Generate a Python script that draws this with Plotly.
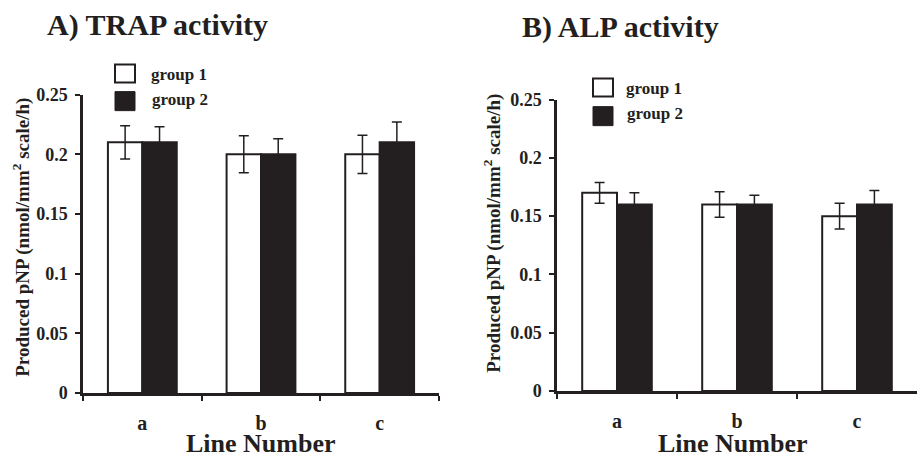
import plotly.graph_objects as go

categories = ["a", "b", "c"]
series_names = ["group 1", "group 2"]

trap_g1 = [0.21, 0.20, 0.20]
trap_g1_err = [0.014, 0.0155, 0.016]
trap_g2 = [0.21, 0.20, 0.21]
trap_g2_err = [0.013, 0.013, 0.017]

alp_g1 = [0.17, 0.16, 0.15]
alp_g1_err = [0.009, 0.011, 0.011]
alp_g2 = [0.16, 0.16, 0.16]
alp_g2_err = [0.010, 0.008, 0.012]

y_ticks = [0, 0.05, 0.1, 0.15, 0.2, 0.25]
y_ticktext = ["0", "0.05", "0.1", "0.15", "0.2", "0.25"]

W, H = 921, 458
FONT = "Liberation Serif"
BLACK = "#231f20"

# vertical compensation for how the page is photographed
VS, VO = 0.955, 11.0

def px(x):
    return x / W

def py(y):
    ys = y / VS - VO
    return (H - ys) / H

fig = go.Figure()

def add_bars(xa, ya, g1, e1, g2, e2):
    fig.add_trace(go.Bar(
        x=categories, y=g1, name=series_names[0], xaxis=xa, yaxis=ya,
        marker=dict(color="white", line=dict(color=BLACK, width=2)),
        error_y=dict(type="data", array=e1, color=BLACK, thickness=1.5, width=5),
        showlegend=False,
    ))
    fig.add_trace(go.Bar(
        x=categories, y=g2, name=series_names[1], xaxis=xa, yaxis=ya,
        marker=dict(color=BLACK, line=dict(color=BLACK, width=2)),
        error_y=dict(type="data", array=e2, color=BLACK, thickness=1.5, width=5),
        showlegend=False,
    ))

add_bars("x", "y", trap_g1, trap_g1_err, trap_g2, trap_g2_err)
add_bars("x2", "y2", alp_g1, alp_g1_err, alp_g2, alp_g2_err)

xaxis_common = dict(
    type="category", range=[-0.5, 2.5], showline=True, linecolor=BLACK, linewidth=2.5,
    ticks="outside", tickson="boundaries", ticklen=5, tickwidth=2, tickcolor=BLACK,
    showgrid=False, zeroline=False,
    tickfont=dict(family=FONT, size=20, color=BLACK, weight="bold"),
    ticklabelstandoff=10,
)
yaxis_common = dict(
    range=[0, 0.25], tickvals=y_ticks, ticktext=y_ticktext, showline=True,
    linecolor=BLACK, linewidth=2.5, ticks="outside", ticklen=5, tickwidth=2,
    tickcolor=BLACK, showgrid=False, zeroline=False,
    tickfont=dict(family=FONT, size=18, color=BLACK, weight="bold"),
    ticklabelstandoff=4,
)

fig.update_layout(
    width=W, height=H, autosize=False,
    margin=dict(l=0, r=0, t=0, b=0),
    paper_bgcolor="white", plot_bgcolor="white",
    barmode="group", bargap=0.42, bargroupgap=0,
    xaxis=dict(domain=[px(83), px(439)], anchor="y", **xaxis_common),
    yaxis=dict(domain=[py(393), py(95)], anchor="x", **yaxis_common),
    xaxis2=dict(domain=[px(557), px(917)], anchor="y2", **xaxis_common),
    yaxis2=dict(domain=[py(391), py(100)], anchor="x2", **yaxis_common),
)

shapes = []
annotations = []

def text(x, y, s, size, xanchor="left", angle=0):
    annotations.append(dict(
        x=px(x), y=py(y), xref="paper", yref="paper", text=s, showarrow=False,
        xanchor=xanchor, yanchor="middle", textangle=angle, borderpad=0,
        font=dict(family=FONT, size=size, color=BLACK, weight="bold"),
    ))

def legend(x0, y1a, y1b, tx, ty1, ty2):
    shapes.append(dict(type="rect", xref="paper", yref="paper",
                       x0=px(x0), x1=px(x0 + 20), y0=py(y1a), y1=py(y1a + 18),
                       fillcolor="white", line=dict(color=BLACK, width=2)))
    shapes.append(dict(type="rect", xref="paper", yref="paper",
                       x0=px(x0), x1=px(x0 + 20), y0=py(y1b), y1=py(y1b + 19),
                       fillcolor=BLACK, line=dict(color=BLACK, width=1)))
    text(tx, ty1, series_names[0], 17)
    text(tx + 1, ty2, series_names[1], 17)

legend(115, 65, 92, 150, 75, 100)
legend(593, 79, 107, 625, 89, 114)

text(46, 25, "A) TRAP activity", 30)
text(521, 27, "B) ALP activity", 30)

ytitle = "Produced pNP (nmol/mm<sup>2</sup> scale/h)"
text(22, 238, ytitle, 19, xanchor="center", angle=-90)
text(493, 234, ytitle, 19, xanchor="center", angle=-90)

text(261, 443, "Line Number", 26, xanchor="center")
text(733, 443, "Line Number", 26, xanchor="center")

fig.update_layout(shapes=shapes, annotations=annotations)

fig.write_html(
    "out.html",
    config={"displayModeBar": False, "responsive": False},
    post_script="document.body.style.margin='0';document.body.style.padding='0';document.body.style.overflow='hidden';",
)
